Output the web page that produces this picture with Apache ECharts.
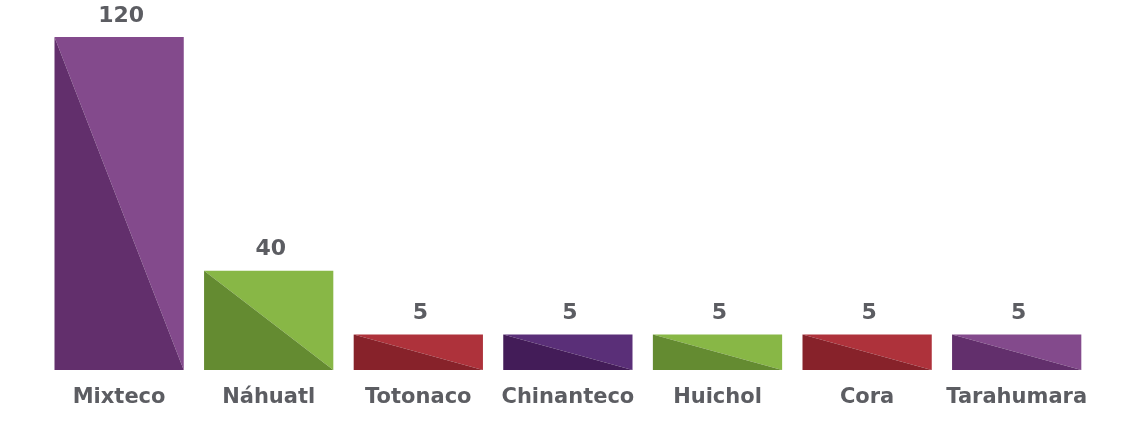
<!DOCTYPE html>
<html>
<head>
<meta charset="utf-8">
<script src="https://cdn.jsdelivr.net/npm/echarts@6/dist/echarts.min.js"></script>
<style>
html,body{margin:0;padding:0;background:#fff;}
#chart{width:1122px;height:426px;}
</style>
</head>
<body>
<div id="chart"></div>
<script>
// Data
const categories = ['Mixteco', 'Náhuatl', 'Totonaco', 'Chinanteco', 'Huichol', 'Cora', 'Tarahumara'];
// values printed above each bar
const valueLabels = [120, 40, 5, 5, 5, 5, 5];
// drawn bar heights as they appear in the picture (the bars are not drawn to the printed scale)
const barHeights = [120, 35.8, 12.8, 12.8, 12.8, 12.8, 12.8];
const darkColors  = ['#622f6c', '#648b31', '#87222a', '#431c58', '#648b31', '#87222a', '#622f6c'];
const lightColors = ['#834a8c', '#88b746', '#ae323b', '#5a2f78', '#88b746', '#ae323b', '#834a8c'];

const textColor = '#5c5d62';
const fontFamily = '"DejaVu Sans", sans-serif';

const chart = echarts.init(document.getElementById('chart'), null, {renderer: 'canvas'});
chart.setOption({
  animation: false,
  backgroundColor: '#ffffff',
  grid: {left: 44.3, right: 30.5, top: 37, bottom: 56, containLabel: false},
  xAxis: {
    type: 'category',
    data: categories,
    axisLine: {show: false},
    axisTick: {show: false},
    axisLabel: {
      color: textColor, fontSize: 21, fontWeight: 'bold', fontFamily: fontFamily,
      margin: 17, interval: 0
    }
  },
  yAxis: {
    type: 'value', min: 0, max: 120,
    show: false,
    splitLine: {show: false}
  },
  series: [{
    type: 'custom',
    data: barHeights.map((h, i) => [i, h]),
    renderItem: function (params, api) {
      const i = api.value(0);
      const v = api.value(1);
      const top = api.coord([i, v]);
      const base = api.coord([i, 0]);
      const w = api.size([1, 0])[0] * 0.864;
      const x0 = top[0] - w / 2, x1 = top[0] + w / 2;
      return {
        type: 'group',
        children: [
          {type: 'polygon', shape: {points: [[x0, top[1]], [x1, top[1]], [x1, base[1]]]},
           style: {fill: lightColors[i]}},
          {type: 'polygon', shape: {points: [[x0, top[1]], [x1, base[1]], [x0, base[1]]]},
           style: {fill: darkColors[i]}},
          {type: 'text', x: top[0] + 2, y: top[1] - 10,
           style: {text: String(valueLabels[i]), align: 'center', verticalAlign: 'bottom',
                   fill: textColor, font: 'bold 22px ' + fontFamily}}
        ]
      };
    }
  }]
});
</script>
</body>
</html>
